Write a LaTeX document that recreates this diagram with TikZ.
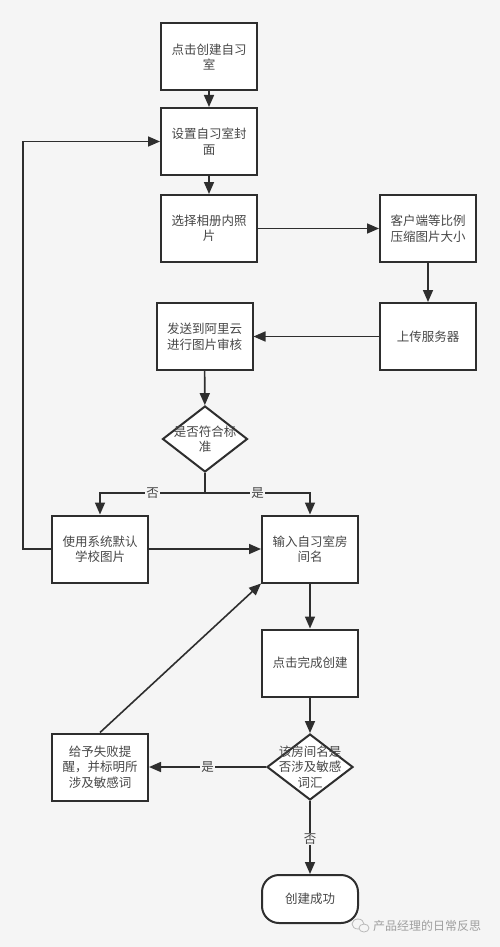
\documentclass[tikz,border=0pt]{standalone}
\usepackage{fontspec}
\setmainfont{Noto Sans CJK SC}
\usetikzlibrary{arrows.meta,shapes.geometric}
\definecolor{bg}{HTML}{F5F5F5}
\definecolor{ln}{HTML}{2E2E2E}
\definecolor{tx}{HTML}{474747}
\tikzset{
  x=1pt,y=-1pt,
  box/.style={draw=ln,line width=2pt,fill=white,minimum width=96pt,minimum height=67pt,inner sep=0pt,align=center,text=tx,font=\fontsize{12.5}{15.5}\selectfont},
  dia/.style={draw=ln,line width=2pt,fill=white,diamond,inner sep=0pt},
  dtext/.style={align=center,text=tx,font=\fontsize{12.5}{15.5}\selectfont,inner sep=0pt},
  term/.style={draw=ln,line width=2pt,fill=white,rounded corners=17pt,minimum width=96pt,minimum height=48pt,inner sep=0pt,text=tx,font=\fontsize{12.5}{15.5}\selectfont},
  conn/.style={draw=ln,line width=1.6pt,-{Triangle[length=12pt,width=10pt]}},
  lab/.style={fill=bg,inner sep=1pt,text=tx,font=\fontsize{12.5}{14}\selectfont},
}
\begin{document}
\begin{tikzpicture}
\fill[bg] (0,0) rectangle (500,947);
\useasboundingbox (0,0) rectangle (500,947);

\node[box] (b1) at (209,57) {点击创建自习\\室};
\node[box] (b2) at (209,141.5) {设置自习室封\\面};
\node[box] (b3) at (209,228.5) {选择相册内照\\片};
\node[box] (b4) at (428,228.5) {客户端等比例\\压缩图片大小};
\node[box] (b5) at (428,336.5) {上传服务器};
\node[box] (b6) at (204.5,336.5) {发送到阿里云\\进行图片审核};
\node[dia,minimum width=85pt,minimum height=66pt] (d1) at (205,439) {};
\node[dtext] (d1t) at (d1.center) {是否符合标\\准};
\node[box] (b7) at (100,549) {使用系统默认\\学校图片};
\node[box] (b8) at (310,549) {输入自习室房\\间名};
\node[box] (b9) at (310,663) {点击完成创建};
\node[dia,minimum width=86pt,minimum height=66pt] (d2) at (310,767) {};
\node[dtext] (d2t) at (d2.center) {该房间名是\\否涉及敏感\\词汇};
\node[box] (b10) at (100,767) {给予失败提\\醒，并标明所\\涉及敏感词};
\node[term] (e) at (310,899) {创建成功};

\coordinate (br) at (205,493);
\coordinate (lp) at (23,549);

\draw[conn] (b1) -- (b2);
\draw[conn] (b2) -- (b3);
\draw[conn] (b3) -- (b4);
\draw[conn] (b4) -- (b5);
\draw[conn] (b5) -- (b6);
\draw[conn] (b6) -- (d1);
\draw[draw=ln,line width=1.6pt] (d1.south) -- (br);
\draw[conn] (br) -| node[lab,pos=0.25] {否} (b7.north);
\draw[conn] (br) -| node[lab,pos=0.25] {是} (b8.north);
\draw[conn] (b7) -- (b8);
\draw[conn] (b7.west) -- (lp) |- (b2.west);
\draw[conn] (b8) -- (b9);
\draw[conn] (b9) -- (d2);
\draw[conn] (d2.west) -- node[lab,pos=0.5] {是} (b10.east);
\draw[conn] (b10.north) -- (b8.south west);
\draw[conn] (d2.south) -- node[lab,pos=0.52] {否} (e.north);

% watermark
\draw[gray!55,line width=0.8pt] (358,924) ellipse [x radius=6pt,y radius=5pt];
\draw[gray!55,line width=0.8pt,fill=bg] (364,928) ellipse [x radius=5pt,y radius=4pt];
\node[anchor=west,text=gray!75,font=\fontsize{12}{14}\selectfont,inner sep=0pt] (wm) at (373,926) {产品经理的日常反思};
\end{tikzpicture}
\end{document}
